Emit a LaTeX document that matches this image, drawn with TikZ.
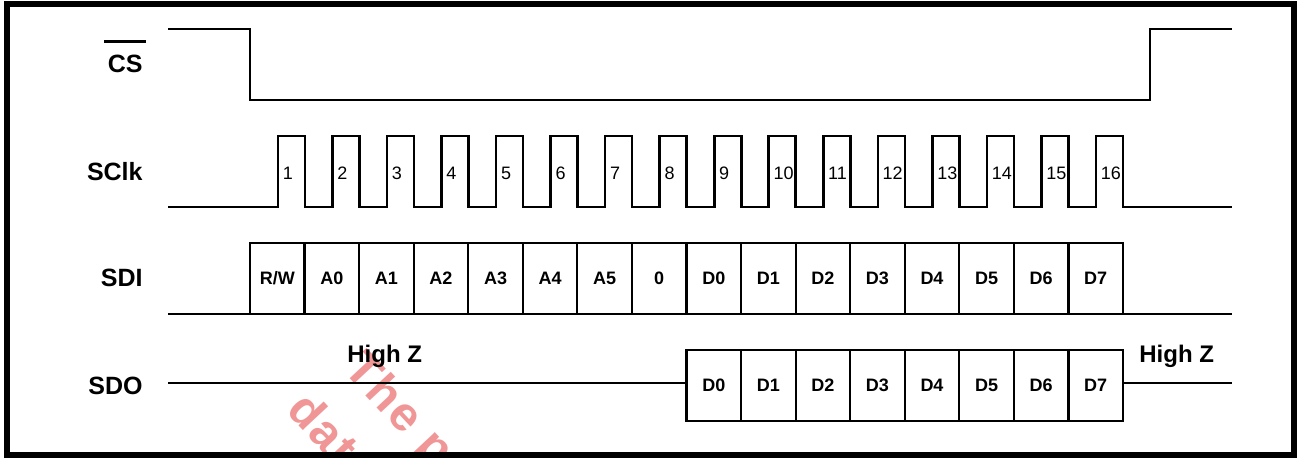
\documentclass[tikz,border=0pt]{standalone}
\usepackage{fontspec}
\setmainfont{Liberation Sans}
\newfontfamily\wmfont[LetterSpace=5]{Liberation Sans}
\usepackage{xcolor}
\usetikzlibrary{positioning}
\definecolor{wmark}{RGB}{240,150,150}
\tikzstyle{wave} = [line width=1.3pt, black, line join=miter]
\tikzstyle{sig} = [font=\bfseries\fontsize{12.5}{14}\selectfont,
    anchor=east, inner sep=0pt]
\tikzstyle{cell} = [draw, line width=1.1pt, minimum width=27.28pt,
    minimum height=35.5pt, inner sep=0pt, font=\bfseries\fontsize{9}{10}\selectfont]
\tikzstyle{num} = [font=\fontsize{9}{10}\selectfont, anchor=west, inner sep=0pt]
\tikzstyle{hiz} = [font=\bfseries\fontsize{12}{14}\selectfont,
    anchor=base west, inner sep=0pt]
\tikzstyle{wm} = [font=\wmfont\bfseries\fontsize{24}{26}\selectfont, text=wmark,
    rotate=-47, anchor=base west, inner sep=0pt]

\begin{document}
\begin{tikzpicture}[x=0.5pt, y=-0.5pt]
  \useasboundingbox (0,0) rectangle (1298,458);

  % Watermark
  \begin{scope}
    \clip (10,7) rectangle (1291,452);
    \node[wm] (wm1) at (342,370) {The pr};
    \node[wm] (wm2) at (285,411) {data};
  \end{scope}

  % Frame
  \draw[line width=3pt] (7,4) rectangle (1294,455);

  % Signal names
  \node[sig] (cs) at (143,64) {CS};
  \draw[wave] ([xshift=-1.5pt, yshift=6.5pt]cs.north west) -- ([xshift=1.5pt, yshift=6.5pt]cs.north east);
  \node[sig] (sclk) at (143,172) {SClk};
  \node[sig] (sdi) at (143,278) {SDI};
  \node[sig] (sdo) at (143,386) {SDO};

  % CS
  \draw[wave] (168,29) -- (250,29) -- (250,100) -- (1150,100) -- (1150,29) -- (1232,29);

  % SClk
  \draw[wave] (168,207) \foreach \k in {0,...,15}{
      -- ({278+54.53*\k},207) -- ({278+54.53*\k},136)
      -- ({305+54.53*\k},136) -- ({305+54.53*\k},207)} -- (1232,207);
  \foreach \k [evaluate=\k as \n using int(\k+1)] in {0,...,15}
    \node[num] (n\n) at ({282.5+54.53*\k},173) {\n};

  % SDI
  \coordinate (sdiL) at (168,314);
  \coordinate (sdiR) at (1232,314);
  \draw[wave] (sdiL) -- (sdiR);
  \foreach \t [count=\i from 0] in {R/W,A0,A1,A2,A3,A4,A5,0,D0,D1,D2,D3,D4,D5,D6,D7}
    \node[cell] (i\i) at ({277.28+54.56*\i},278.5) {\t};

  % SDO
  \foreach \t [count=\i from 0] in {D0,D1,D2,D3,D4,D5,D6,D7}
    \node[cell] (o\i) at ({713.76+54.56*\i},385.5) {\t};
  \coordinate (sdoL) at (168,383);
  \coordinate (sdoR) at (1232,383);
  \draw[wave] (sdoL) -- (sdoL -| o0.west);
  \draw[wave] (sdoR -| o7.east) -- (sdoR);
  \node[hiz] (hz1) at (347,363) {High Z};
  \node[hiz] (hz2) at (1139,363) {High Z};
\end{tikzpicture}
\end{document}
